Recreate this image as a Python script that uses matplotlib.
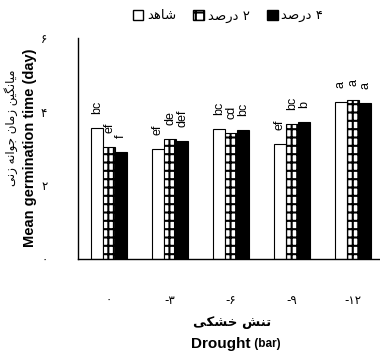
import matplotlib
matplotlib.use('Agg')
import matplotlib.pyplot as plt
from matplotlib.patches import Patch
import numpy as np

# data (mean germination time, days)
drought_labels = ['\u06f0', '-\u06f3', '-\u06f6', '-\u06f9', '-\u06f1\u06f2']
control = [3.56, 2.99, 3.53, 3.13, 4.27]
pct2 = [3.04, 3.26, 3.42, 3.67, 4.32]
pct4 = [2.91, 3.21, 3.51, 3.72, 4.24]
letters_control = ['bc', 'ef', 'bc', 'ef', 'a']
letters_pct2 = ['ef', 'de', 'cd', 'bc', 'a']
letters_pct4 = ['f', 'def', 'bc', 'b', 'a']
yticks = [0, 2, 4, 6]
ytick_labels = ['\u06f0', '\u06f2', '\u06f4', '\u06f6']

# persian strings, pre-shaped (presentation forms, visual order)
lbl_control = '\uFEAA\uFEEB\uFE8E\uFEB7'
lbl_pct2 = '\uFEAA\uFEBB\uFEAD\uFEA9 \u06f2'
lbl_pct4 = '\uFEAA\uFEBB\uFEAD\uFEA9 \u06f4'
xlabel_fa = '\uFBFD\uFB91\uFEB8\uFEA7 \uFEB6\uFEE8\uFE97'
ylabel_fa = ('\uFBFD\uFEE7\uFEAF \uFEEA\uFEE7\uFE8D\uFEEE\uFE9F '
             '\uFEE5\uFE8E\uFEE3\uFEAF \uFEE6\uFBFF\uFB95\uFEE7\uFE8E\uFBFF\uFEE3')

fa_font = ['DejaVu Sans']
en_font = ['Liberation Sans', 'DejaVu Sans']
plt.rcParams['font.family'] = en_font
plt.rcParams['hatch.linewidth'] = 1.5

fig = plt.figure(figsize=(3.8, 3.56), dpi=100)
ax = fig.add_axes([0.205, 0.2725, 0.795, 0.6205])

x = np.arange(len(control))
w = 0.2
brick = '++|'
series = [
    (control, 'white', None, letters_control, -w),
    (pct2, 'white', brick, letters_pct2, 0),
    (pct4, 'black', None, letters_pct4, w),
]
for vals, color, hatch, letters, off in series:
    ax.bar(x + off, vals, w, color=color, edgecolor='black', hatch=hatch, linewidth=0.8)
    for xi, v, t in zip(x + off, vals, letters):
        ax.text(xi, v + 0.38, t, rotation=90, ha='center', va='bottom', fontsize=9)

ax.set_xlim(-0.51, 4.44)
ax.set_ylim(0, 6)
ax.set_yticks(yticks)
ax.set_yticklabels(ytick_labels, family=fa_font, fontsize=8.5)
ax.set_xticks(x)
ax.set_xticklabels(drought_labels, family=fa_font, fontsize=8.5)
ax.tick_params(axis='y', length=0, pad=22)
ax.tick_params(axis='x', length=0, pad=25)
for s in ['top', 'right']:
    ax.spines[s].set_visible(False)
ax.spines['left'].set_linewidth(1.0)
ax.spines['bottom'].set_linewidth(1.0)

# y axis labels (two lines)
fig.text(0.08, 0.585, 'Mean germination time (day)', rotation=90, ha='center', va='center',
         fontsize=10.5, fontweight='bold')
fig.text(0.03, 0.64, ylabel_fa, rotation=90, ha='center', va='center',
         fontsize=8.5, family=fa_font)

# x axis labels
fig.text(0.612, 0.095, xlabel_fa, ha='center', va='center', fontsize=9.5, fontweight='bold',
         family=fa_font)
fig.text(0.66, 0.035, 'Drought', ha='right', va='center', fontsize=11, fontweight='bold')
fig.text(0.66, 0.035, ' (bar)', ha='left', va='center', fontsize=8.5, fontweight='bold')

handles = [Patch(facecolor='white', edgecolor='black', label=lbl_control),
           Patch(facecolor='white', edgecolor='black', hatch='++', label=lbl_pct2),
           Patch(facecolor='black', edgecolor='black', label=lbl_pct4)]
fig.legend(handles=handles, loc='center', bbox_to_anchor=(0.6, 0.955), ncol=3,
           frameon=False, handlelength=0.8, handleheight=0.8, handletextpad=0.3,
           columnspacing=1.3, prop={'family': fa_font, 'size': 9.5})

fig.savefig('out.png', dpi=100)
